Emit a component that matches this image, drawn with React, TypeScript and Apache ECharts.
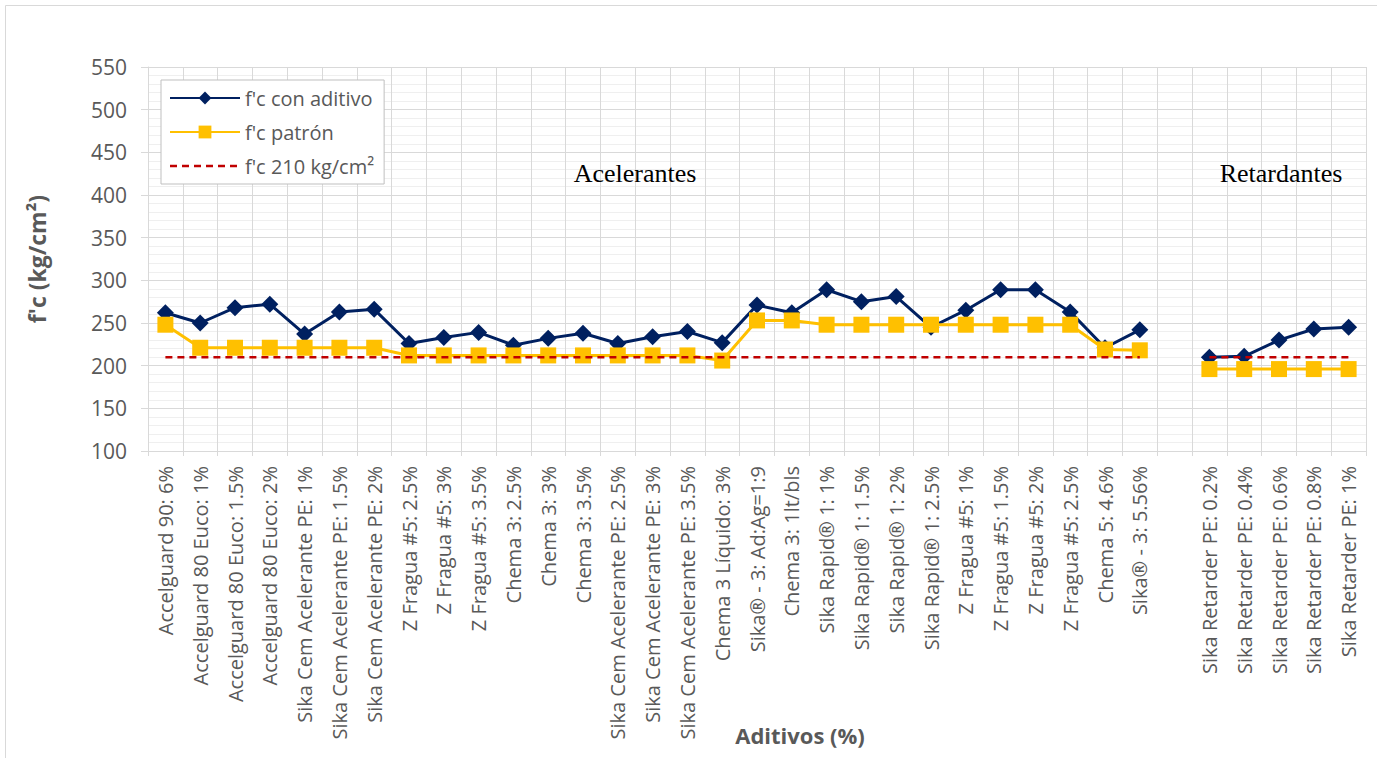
import React, { useEffect, useRef } from "react";
import * as echarts from "echarts";

const categories: string[] = [
  "Accelguard 90: 6%",
  "Accelguard 80 Euco: 1%",
  "Accelguard 80 Euco: 1.5%",
  "Accelguard 80 Euco: 2%",
  "Sika Cem Acelerante PE: 1%",
  "Sika Cem Acelerante PE: 1.5%",
  "Sika Cem Acelerante PE: 2%",
  "Z Fragua #5: 2.5%",
  "Z Fragua #5: 3%",
  "Z Fragua #5: 3.5%",
  "Chema 3: 2.5%",
  "Chema 3: 3%",
  "Chema 3: 3.5%",
  "Sika Cem Acelerante PE: 2.5%",
  "Sika Cem Acelerante PE: 3%",
  "Sika Cem Acelerante PE: 3.5%",
  "Chema 3 Líquido: 3%",
  "Sika® - 3: Ad:Ag=1:9",
  "Chema 3: 1lt/bls",
  "Sika Rapid® 1: 1%",
  "Sika Rapid® 1: 1.5%",
  "Sika Rapid® 1: 2%",
  "Sika Rapid® 1: 2.5%",
  "Z Fragua #5: 1%",
  "Z Fragua #5: 1.5%",
  "Z Fragua #5: 2%",
  "Z Fragua #5: 2.5%",
  "Chema 5: 4.6%",
  "Sika® - 3: 5.56%",
  "",
  "Sika Retarder PE: 0.2%",
  "Sika Retarder PE: 0.4%",
  "Sika Retarder PE: 0.6%",
  "Sika Retarder PE: 0.8%",
  "Sika Retarder PE: 1%",
];

const conAditivo: (number | null)[] = [
  262, 250, 268, 272, 237, 263, 266, 226, 233, 239, 224, 232, 238, 226, 234, 240, 227,
  271, 262, 289, 275, 281, 245, 265, 289, 289, 263, 221, 242, null, 210, 211, 230, 243, 245,
];

const patron: (number | null)[] = [
  248, 221, 221, 221, 221, 221, 221, 212, 212, 212, 212, 212, 212, 212, 212, 212, 206,
  253, 253, 248, 248, 248, 248, 248, 248, 248, 248, 219, 218, null, 196, 196, 196, 196, 196,
];

const referencia: (number | null)[] = [
  210, 210, 210, 210, 210, 210, 210, 210, 210, 210, 210, 210, 210, 210, 210, 210, 210,
  210, 210, 210, 210, 210, 210, 210, 210, 210, 210, 210, 210, null, 210, 210, 210, 210, 210,
];

const seriesNames = ["f'c con aditivo", "f'c patrón", "f'c 210 kg/cm²"];
const yTicks = { min: 100, max: 550, interval: 50 };
const groupLabels = ["Acelerantes", "Retardantes"];

const FONT = "'Open Sans', sans-serif";
const TXT = "#595959";

// dashed-line legend icon (70 x 16 box, bounds fixed by the two move-to points)
const DASH_ICON =
  "path://M0,0 M70,16 M0,6.8 h7 v2.5 h-7 Z M12,6.8 h7 v2.5 h-7 Z M24,6.8 h7 v2.5 h-7 Z M36,6.8 h7 v2.5 h-7 Z M48,6.8 h7 v2.5 h-7 Z M60,6.8 h7 v2.5 h-7 Z";

export default function App() {
  const ref = useRef<HTMLDivElement>(null);
  useEffect(() => {
    if (!ref.current) return;
    const chart = echarts.init(ref.current, null, { renderer: "svg" });
    chart.setOption({
      animation: false,
      backgroundColor: "#fff",
      grid: { left: 148, right: 11, top: 67, bottom: 307, containLabel: false },
      legend: {
        orient: "vertical",
        left: 161,
        top: 80,
        itemWidth: 70,
        itemHeight: 16,
        itemGap: 12,
        padding: [7, 10, 7, 8],
        borderColor: "#BFBFBF",
        borderWidth: 1,
        backgroundColor: "#fff",
        textStyle: { color: TXT, fontSize: 20, fontFamily: FONT, lineHeight: 22 },
        data: [
          { name: seriesNames[0] },
          { name: seriesNames[1] },
          { name: seriesNames[2], icon: DASH_ICON },
        ],
      },
      xAxis: {
        type: "category",
        data: categories,
        boundaryGap: true,
        axisLine: { lineStyle: { color: "#D9D9D9", width: 1 } },
        axisTick: { show: true, length: 5, lineStyle: { color: "#D9D9D9" } },
        splitLine: { show: true, lineStyle: { color: "#D9D9D9", width: 1 } },
        axisLabel: {
          interval: 0,
          rotate: 90,
          color: TXT,
          fontSize: 20,
          fontFamily: FONT,
          margin: 15,
        },
      },
      yAxis: {
        type: "value",
        min: yTicks.min,
        max: yTicks.max,
        interval: yTicks.interval,
        name: "f'c (kg/cm²)",
        nameLocation: "middle",
        nameGap: 100,
        nameTextStyle: { color: TXT, fontSize: 23, fontWeight: "bold", fontFamily: FONT },
        axisLine: { show: true, lineStyle: { color: "#D9D9D9" } },
        axisTick: { show: true, length: 7, lineStyle: { color: "#D9D9D9" } },
        axisLabel: { color: TXT, fontSize: 21, fontFamily: FONT, margin: 21 },
        splitLine: { show: true, lineStyle: { color: "#D9D9D9", width: 1 } },
        minorTick: { show: false, splitNumber: 5 },
        minorSplitLine: { show: true, lineStyle: { color: "#EFEFEF", width: 1 } },
      },
      graphic: [
        {
          type: "rect",
          shape: { x: 5.5, y: 5.5, width: 1400, height: 800 },
          style: { fill: "none", stroke: "#D9D9D9", lineWidth: 1 },
          silent: true,
          z: -10,
        },
        {
          type: "text",
          x: 635,
          y: 173,
          style: {
            text: groupLabels[0],
            font: "26px 'Liberation Serif', serif",
            fill: "#000",
            textAlign: "center",
            textVerticalAlign: "middle",
          },
          z: 10,
        },
        {
          type: "text",
          x: 1281,
          y: 173,
          style: {
            text: groupLabels[1],
            font: "26px 'Liberation Serif', serif",
            fill: "#000",
            textAlign: "center",
            textVerticalAlign: "middle",
          },
          z: 10,
        },
        {
          type: "text",
          x: 800,
          y: 735,
          style: {
            text: "Aditivos (%)",
            font: `bold 22px ${FONT}`,
            fill: TXT,
            textAlign: "center",
            textVerticalAlign: "middle",
          },
          z: 10,
        },
      ],
      series: [
        {
          name: seriesNames[0],
          type: "line",
          data: conAditivo,
          connectNulls: false,
          symbol: "diamond",
          symbolSize: 17,
          itemStyle: { color: "#002060" },
          lineStyle: { color: "#002060", width: 3 },
          z: 2,
        },
        {
          name: seriesNames[1],
          type: "line",
          data: patron,
          connectNulls: false,
          symbol: "rect",
          symbolSize: 16,
          itemStyle: { color: "#FFC000" },
          lineStyle: { color: "#FFC000", width: 3 },
          z: 3,
        },
        {
          name: seriesNames[2],
          type: "line",
          data: referencia,
          connectNulls: false,
          symbol: "none",
          itemStyle: { color: "#C00000" },
          lineStyle: { color: "#C00000", width: 2.5, type: [7, 5] },
          z: 4,
        },
      ],
    });
    return () => chart.dispose();
  }, []);
  return <div ref={ref} style={{ width: 1377, height: 758, position: "absolute", left: 0, top: 0 }} />;
}
